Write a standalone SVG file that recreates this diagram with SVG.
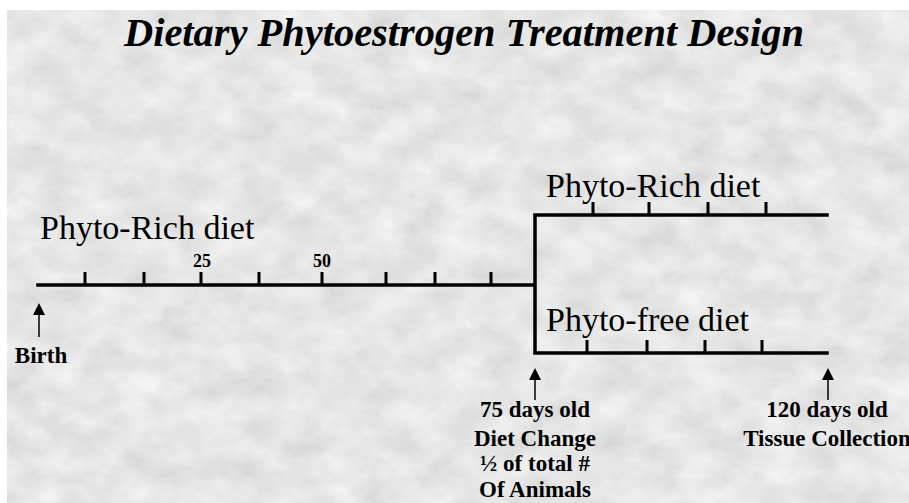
<svg xmlns="http://www.w3.org/2000/svg" width="909" height="503" viewBox="0 0 909 503">
<defs>
<filter id="tex" x="0" y="0" width="100%" height="100%">
<feTurbulence type="fractalNoise" baseFrequency="0.025 0.035" numOctaves="5" seed="7" result="n"/>
<feColorMatrix in="n" type="matrix" values="0.3 0 0 0 0.64  0.3 0 0 0 0.64  0.3 0 0 0 0.64  0 0 0 0 1"/>
</filter>
<style>
.ln{stroke:#000;stroke-width:3.5;fill:none;stroke-linecap:square}
.tk{stroke:#000;stroke-width:3;fill:none}
.ar{stroke:#000;stroke-width:1.5;fill:none}
.ah{fill:#000}
.diet{font-family:"Liberation Serif","Times New Roman",serif;font-size:34px;fill:#000}
.lab{font-family:"Liberation Serif","Times New Roman",serif;font-size:23px;font-weight:bold;fill:#000;text-anchor:middle}
.num{font-family:"Liberation Serif","Times New Roman",serif;font-size:18px;font-weight:bold;fill:#000;text-anchor:middle}
.title{font-family:"Liberation Serif","Times New Roman",serif;font-size:40px;font-weight:bold;font-style:italic;fill:#000}
</style>
</defs>
<rect width="909" height="503" fill="#fff"/>
<rect x="7" y="10" width="902" height="493" fill="#d0d0d0" filter="url(#tex)"/>

<g id="title"><text class="title" x="124" y="46" textLength="680" lengthAdjust="spacingAndGlyphs">Dietary Phytoestrogen Treatment Design</text></g>

<g id="connectors">
<path class="ln" d="M38 285 H535 M535 215 V353 M535 215 H827 M535 353 H827"/>
<path class="tk" d="M85 285 V272 M144 285 V272 M201 285 V272 M259 285 V272 M322 285 V272 M386 285 V272 M435 285 V272 M491 285 V272"/>
<path class="tk" d="M593 215 V202 M649 215 V202 M708 215 V202 M766 215 V202"/>
<path class="tk" d="M587 353 V340 M647 353 V340 M705 353 V340 M762 353 V340"/>
<line class="ar" x1="39" y1="337" x2="39" y2="312"/>
<path class="ah" d="M39 303 L45 315 L33 315 Z"/>
<line class="ar" x1="535" y1="400" x2="535" y2="377"/>
<path class="ah" d="M535 368 L541 380 L529 380 Z"/>
<line class="ar" x1="828" y1="400" x2="828" y2="377"/>
<path class="ah" d="M828 368 L834 380 L822 380 Z"/>
</g>

<g id="ticks-labels">
<text class="num" x="202" y="267">25</text>
<text class="num" x="322" y="267">50</text>
</g>

<g id="diet-early"><text class="diet" x="40" y="239">Phyto-Rich diet</text></g>
<g id="diet-rich"><text class="diet" x="546" y="197">Phyto-Rich diet</text></g>
<g id="diet-free"><text class="diet" x="546" y="331">Phyto-free diet</text></g>

<g id="birth"><text class="lab" x="41" y="363">Birth</text></g>
<g id="diet-change">
<text class="lab" x="535" y="417">75 days old</text>
<text class="lab" x="535" y="446">Diet Change</text>
<text class="lab" x="535" y="471">½ of total #</text>
<text class="lab" x="535" y="497">Of Animals</text>
</g>
<g id="collection">
<text class="lab" x="827" y="417">120 days old</text>
<text class="lab" x="827" y="446">Tissue Collection</text>
</g>
</svg>
